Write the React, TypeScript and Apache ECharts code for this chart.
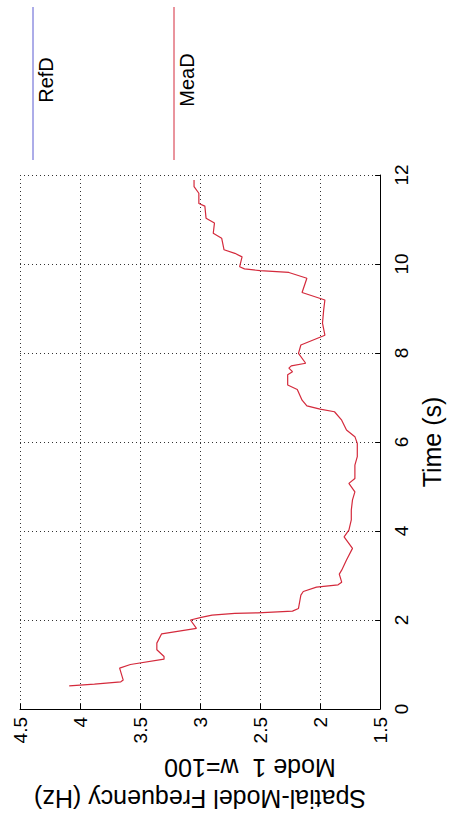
import React, { useEffect, useRef } from 'react';
import * as echarts from 'echarts';

// Legend / series
const seriesNames = ['RefD', 'MeaD'];
const seriesColors = ['#5a5ad2', '#d42a3c'];

// RefD has no visible points in the plotted range
const refFreq: number[] = [];
const refTime: number[] = [];

// MeaD: spatial-model frequency (Hz) versus time (s)
const meaTime = [0.52, 0.56, 0.61, 0.65, 0.92, 1.0, 1.12, 1.18, 1.33, 1.48, 1.69, 1.81, 2.0, 2.06, 2.11, 2.15, 2.16, 2.2, 2.26, 2.56, 2.64, 2.74, 2.79, 2.85, 3.03, 3.12, 3.35, 3.61, 3.87, 4.02, 4.25, 4.47, 4.7, 4.88, 5.07, 5.18, 5.48, 5.67, 5.97, 6.12, 6.27, 6.49, 6.68, 6.74, 6.81, 6.94, 7.18, 7.28, 7.51, 7.58, 7.66, 7.71, 7.77, 7.99, 8.18, 8.4, 8.67, 8.97, 9.19, 9.36, 9.68, 9.81, 9.85, 9.89, 9.94, 10.16, 10.24, 10.32, 10.58, 10.69, 10.92, 11.03, 11.3, 11.36, 11.59, 11.74, 11.89];
const meaFreq = [4.09, 3.88, 3.66, 3.64, 3.67, 3.58, 3.3, 3.3, 3.36, 3.36, 3.32, 3.03, 3.08, 2.99, 2.9, 2.71, 2.52, 2.23, 2.18, 2.16, 2.14, 2.03, 1.85, 1.82, 1.84, 1.82, 1.78, 1.73, 1.8, 1.76, 1.74, 1.74, 1.73, 1.71, 1.76, 1.71, 1.71, 1.69, 1.69, 1.71, 1.78, 1.82, 1.88, 2.0, 2.11, 2.15, 2.19, 2.27, 2.27, 2.23, 2.26, 2.24, 2.12, 2.18, 2.16, 1.96, 1.98, 1.97, 1.96, 2.15, 2.11, 2.26, 2.5, 2.63, 2.67, 2.65, 2.71, 2.8, 2.82, 2.89, 2.88, 2.95, 2.96, 3.01, 3.01, 3.05, 3.05];

// Axes
const freqRange = [1.5, 4.5];
const freqStep = 0.5;
const timeRange = [0, 12];
const timeStep = 2;
const freqLabelLine1 = 'Spatial-Model Frequency (Hz)';
const freqLabelLine2 = 'Mode 1  w=100';
const timeLabel = 'Time (s)';

const FONT = '"Liberation Sans", Arial, sans-serif';

export default function App() {
  const ref = useRef<HTMLDivElement>(null);

  useEffect(() => {
    if (!ref.current) return;
    const chart = echarts.init(ref.current, undefined, { renderer: 'svg' });

    const refData = refTime.map((t, i) => [refFreq[i], t]);
    const meaData = meaTime.map((t, i) => [meaFreq[i], t]);

    const gridStyle = { color: '#333', width: 1, type: [1, 3] as any };

    const legendX = [33, 174];
    const graphics: any[] = [];
    seriesNames.forEach((name, i) => {
      graphics.push({
        type: 'line',
        shape: { x1: legendX[i], y1: 7, x2: legendX[i], y2: 160 },
        style: { stroke: seriesColors[i], lineWidth: 1 },
        silent: true,
      });
      graphics.push({
        type: 'text',
        x: legendX[i] + 13,
        y: 80,
        rotation: Math.PI / 2,
        style: {
          text: name,
          fill: '#000',
          font: `20px ${FONT}`,
          textAlign: 'center',
          textVerticalAlign: 'middle',
        },
        silent: true,
      });
    });
    // second line of the frequency-axis label (upside down, like the first)
    graphics.push({
      type: 'text',
      x: 250,
      y: 768,
      rotation: Math.PI,
      style: {
        text: freqLabelLine2,
        fill: '#000',
        font: `25px ${FONT}`,
        textAlign: 'center',
        textVerticalAlign: 'middle',
      },
      silent: true,
    });

    chart.setOption({
      animation: false,
      backgroundColor: '#fff',
      textStyle: { fontFamily: FONT },
      grid: { left: 20, right: 64, top: 175, bottom: 108, containLabel: false },
      xAxis: {
        type: 'value',
        min: freqRange[0],
        max: freqRange[1],
        interval: freqStep,
        inverse: true,
        position: 'bottom',
        name: freqLabelLine1,
        nameLocation: 'middle',
        nameRotate: 180,
        nameGap: 77,
        nameTextStyle: { color: '#000', fontFamily: FONT, fontSize: 25 },
        axisLine: { show: true, onZero: false, lineStyle: { color: '#000', width: 1 } },
        axisTick: { show: true, inside: true, length: 5, lineStyle: { color: '#000' } },
        axisLabel: { rotate: 90, fontSize: 19, color: '#000', margin: 8, fontFamily: FONT },
        splitLine: { show: true, lineStyle: gridStyle },
      },
      yAxis: {
        type: 'value',
        min: timeRange[0],
        max: timeRange[1],
        interval: timeStep,
        position: 'right',
        name: timeLabel,
        nameLocation: 'middle',
        nameRotate: 90,
        nameGap: 37,
        nameTextStyle: { color: '#000', fontFamily: FONT, fontSize: 25 },
        axisLine: { show: true, onZero: false, lineStyle: { color: '#000', width: 1 } },
        axisTick: { show: true, inside: true, length: 5, lineStyle: { color: '#000' } },
        axisLabel: { rotate: 90, fontSize: 19, color: '#000', margin: 12, fontFamily: FONT },
        splitLine: { show: true, lineStyle: gridStyle },
      },
      series: [
        {
          name: seriesNames[0],
          type: 'line',
          data: refData,
          showSymbol: false,
          lineStyle: { color: seriesColors[0], width: 1 },
          itemStyle: { color: seriesColors[0] },
        },
        {
          name: seriesNames[1],
          type: 'line',
          data: meaData,
          showSymbol: false,
          lineStyle: { color: seriesColors[1], width: 1.2 },
          itemStyle: { color: seriesColors[1] },
        },
      ],
      graphic: graphics,
    });

    return () => chart.dispose();
  }, []);

  return (
    <div
      ref={ref}
      style={{ position: 'absolute', left: 0, top: 0, width: 452, height: 817, background: '#fff' }}
    />
  );
}
